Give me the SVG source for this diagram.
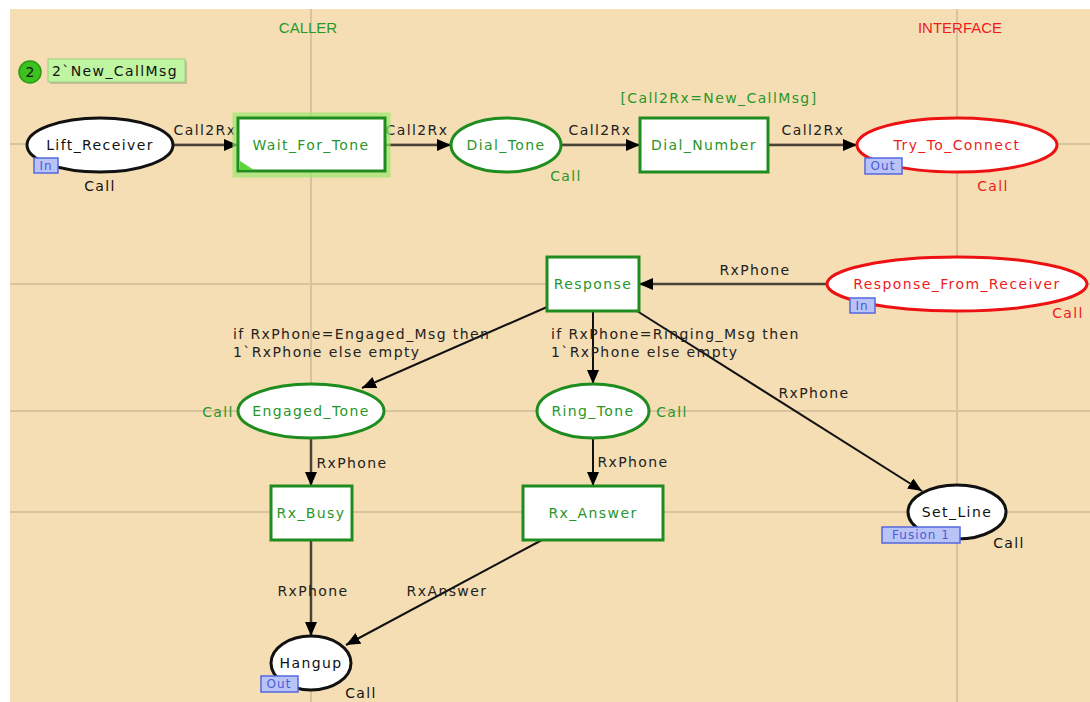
<svg xmlns="http://www.w3.org/2000/svg" width="1090" height="702" viewBox="0 0 1090 702">
<defs>
<marker id="ah" markerUnits="userSpaceOnUse" markerWidth="15" markerHeight="13" refX="14" refY="6" orient="auto"><path d="M0,0 L14,6 L0,12 z" fill="#000"/></marker>
<style>
.grid{stroke:#d8c39f;stroke-width:2}
.t{font-family:"DejaVu Sans",sans-serif;font-size:14px;letter-spacing:1.4px}
.lbl{fill:#222}
.g{fill:#2a962a}
.r{fill:#ee1c1c}
.k{fill:#111}
.pg{fill:#fff;stroke:#1f8c1f;stroke-width:3}
.pr{fill:#fff;stroke:#ee1111;stroke-width:3}
.pk{fill:#fff;stroke:#111;stroke-width:3}
.tr{fill:#fff;stroke:#1f8c1f;stroke-width:3}
.arc{stroke:#111;stroke-width:2;fill:none;marker-end:url(#ah)}
.arct{stroke:#4a4236;stroke-width:2.5;fill:none;marker-end:url(#ah)}
.tag{fill:#b9c3f5;stroke:#5468e0;stroke-width:1.5}
.tagt{font-family:"DejaVu Sans",sans-serif;font-size:12px;letter-spacing:1px;fill:#4a5cd8}
.hdr{font-family:"Liberation Sans",Arial,sans-serif;font-size:15px}
</style>
</defs>
<rect x="0" y="0" width="1090" height="702" fill="#fff"/>
<rect x="10" y="9" width="1080" height="693" fill="#f5deb3"/>
<g id="grid">
<line class="grid" x1="311" y1="9" x2="311" y2="702"/>
<line class="grid" x1="957" y1="9" x2="957" y2="702"/>
<line class="grid" x1="10" y1="144" x2="1090" y2="144"/>
<line class="grid" x1="10" y1="284" x2="1090" y2="284"/>
<line class="grid" x1="10" y1="411" x2="1090" y2="411"/>
<line class="grid" x1="10" y1="512" x2="1090" y2="512"/>
</g>
<text class="hdr" x="308" y="33" text-anchor="middle" fill="#2a962a">CALLER</text>
<text class="hdr" x="960" y="33" text-anchor="middle" fill="#ee1c1c">INTERFACE</text>
<g id="connectors">
<line class="arct" x1="173" y1="145" x2="238" y2="145"/>
<line class="arct" x1="385" y1="145" x2="451" y2="145"/>
<line class="arct" x1="562" y1="145" x2="640" y2="145"/>
<line class="arct" x1="768" y1="145" x2="857" y2="145"/>
<line class="arct" x1="827" y1="284" x2="639" y2="284"/>
<line class="arc" x1="547" y1="307" x2="362" y2="388"/>
<line class="arc" x1="593" y1="311" x2="593" y2="384"/>
<line class="arc" x1="637" y1="311" x2="922" y2="491"/>
<line class="arct" x1="311" y1="438" x2="311" y2="486"/>
<line class="arc" x1="593" y1="438" x2="593" y2="486"/>
<line class="arct" x1="311" y1="540" x2="311" y2="636"/>
<line class="arc" x1="542" y1="540" x2="346" y2="645"/>
<text class="t lbl" x="205" y="135" text-anchor="middle">Call2Rx</text>
<text class="t lbl" x="417" y="135" text-anchor="middle">Call2Rx</text>
<text class="t lbl" x="600" y="135" text-anchor="middle">Call2Rx</text>
<text class="t lbl" x="813" y="135" text-anchor="middle">Call2Rx</text>
<text class="t lbl" x="755" y="275" text-anchor="middle">RxPhone</text>
<text class="t lbl" x="233" y="339">if RxPhone=Engaged_Msg then</text>
<text class="t lbl" x="233" y="357">1`RxPhone else empty</text>
<text class="t lbl" x="551" y="339">if RxPhone=Ringing_Msg then</text>
<text class="t lbl" x="551" y="357">1`RxPhone else empty</text>
<text class="t lbl" x="814" y="398" text-anchor="middle">RxPhone</text>
<text class="t lbl" x="352" y="468" text-anchor="middle">RxPhone</text>
<text class="t lbl" x="633" y="467" text-anchor="middle">RxPhone</text>
<text class="t lbl" x="313" y="596" text-anchor="middle">RxPhone</text>
<text class="t lbl" x="447" y="596" text-anchor="middle">RxAnswer</text>
</g>
<g id="token">
<circle cx="30" cy="72" r="11" fill="#3cc21e" stroke="#2a9a14" stroke-width="1.5"/>
<text x="30" y="77" text-anchor="middle" class="t k" style="letter-spacing:0">2</text>
<rect x="50" y="61" width="137" height="23" fill="#9a9a80" opacity="0.5"/>
<rect x="48" y="59" width="137" height="23" fill="#bff5a0" stroke="#9ad080" stroke-width="1"/>
<text class="t k" x="52" y="76">2`New_CallMsg</text>
</g>
<g id="Lift_Receiver">
<ellipse class="pk" cx="100" cy="145" rx="73" ry="27"/>
<text class="t k" x="100" y="150" text-anchor="middle">Lift_Receiver</text>
<rect class="tag" x="34" y="158" width="24" height="15"/>
<text class="tagt" x="46" y="170" text-anchor="middle">In</text>
<text class="t k" x="100" y="191" text-anchor="middle">Call</text>
</g>
<g id="Wait_For_Tone">
<rect x="235" y="115" width="153" height="60" fill="none" stroke="#9be870" stroke-width="5" opacity="0.7"/>
<rect class="tr" x="238" y="118" width="147" height="53"/>
<path d="M240,170 L254,170 L240,161 z" fill="#5cd43a"/>
<text class="t g" x="311" y="150" text-anchor="middle">Wait_For_Tone</text>
</g>
<g id="Dial_Tone">
<ellipse class="pg" cx="506" cy="145" rx="55" ry="27"/>
<text class="t g" x="506" y="150" text-anchor="middle">Dial_Tone</text>
<text class="t g" x="566" y="181" text-anchor="middle">Call</text>
</g>
<g id="Dial_Number">
<rect class="tr" x="640" y="118" width="128" height="54"/>
<text class="t g" x="704" y="150" text-anchor="middle">Dial_Number</text>
<text class="t g" x="719" y="103" text-anchor="middle">[Call2Rx=New_CallMsg]</text>
</g>
<g id="Try_To_Connect">
<ellipse class="pr" cx="957" cy="145" rx="100" ry="27"/>
<text class="t r" x="957" y="150" text-anchor="middle">Try_To_Connect</text>
<rect class="tag" x="865" y="158" width="37" height="16"/>
<text class="tagt" x="883" y="170" text-anchor="middle">Out</text>
<text class="t r" x="993" y="191" text-anchor="middle">Call</text>
</g>
<g id="Response">
<rect class="tr" x="547" y="257" width="92" height="54"/>
<text class="t g" x="593" y="289" text-anchor="middle">Response</text>
</g>
<g id="Response_From_Receiver">
<ellipse class="pr" cx="957" cy="284" rx="130" ry="27"/>
<text class="t r" x="957" y="289" text-anchor="middle">Response_From_Receiver</text>
<rect class="tag" x="850" y="298" width="25" height="15"/>
<text class="tagt" x="862" y="310" text-anchor="middle">In</text>
<text class="t r" x="1068" y="318" text-anchor="middle">Call</text>
</g>
<g id="Engaged_Tone">
<ellipse class="pg" cx="311" cy="411" rx="73" ry="27"/>
<text class="t g" x="311" y="416" text-anchor="middle">Engaged_Tone</text>
<text class="t g" x="218" y="417" text-anchor="middle">Call</text>
</g>
<g id="Ring_Tone">
<ellipse class="pg" cx="593" cy="411" rx="56" ry="27"/>
<text class="t g" x="593" y="416" text-anchor="middle">Ring_Tone</text>
<text class="t g" x="672" y="417" text-anchor="middle">Call</text>
</g>
<g id="Set_Line">
<ellipse class="pk" cx="957" cy="512" rx="49" ry="27"/>
<text class="t k" x="957" y="517" text-anchor="middle">Set_Line</text>
<rect class="tag" x="882" y="527" width="78" height="16"/>
<text class="tagt" x="921" y="539" text-anchor="middle">Fusion 1</text>
<text class="t k" x="1009" y="548" text-anchor="middle">Call</text>
</g>
<g id="Rx_Busy">
<rect class="tr" x="271" y="486" width="81" height="54"/>
<text class="t g" x="311" y="518" text-anchor="middle">Rx_Busy</text>
</g>
<g id="Rx_Answer">
<rect class="tr" x="523" y="486" width="140" height="54"/>
<text class="t g" x="593" y="518" text-anchor="middle">Rx_Answer</text>
</g>
<g id="Hangup">
<ellipse class="pk" cx="311" cy="663" rx="40" ry="27"/>
<text class="t k" x="311" y="668" text-anchor="middle">Hangup</text>
<rect class="tag" x="261" y="676" width="37" height="16"/>
<text class="tagt" x="279" y="688" text-anchor="middle">Out</text>
<text class="t k" x="361" y="698" text-anchor="middle">Call</text>
</g>
</svg>
